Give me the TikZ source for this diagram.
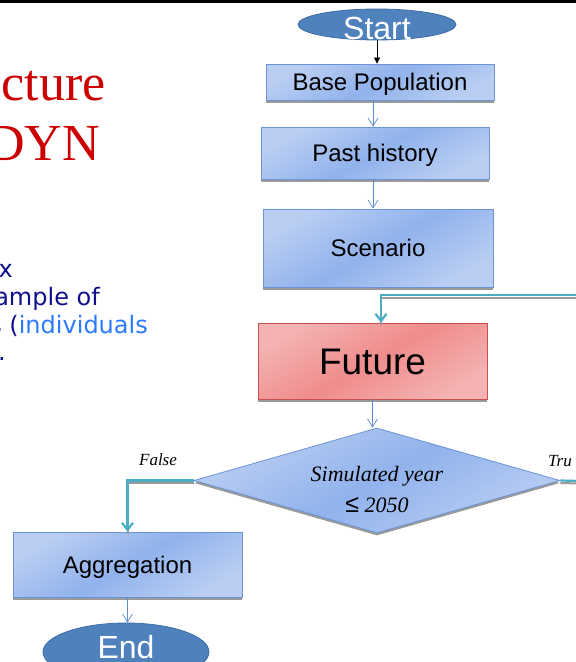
\documentclass[tikz,border=0pt]{standalone}
\usepackage{fontspec}
\setmainfont{Liberation Serif}
\setsansfont{Liberation Sans}
\newfontfamily\slidefont{DejaVu Sans}
\usetikzlibrary{shapes.geometric,shadows,arrows.meta,calc}

\definecolor{boxmid}{HTML}{91B2EC}
\definecolor{boxlight}{HTML}{BACEF2}
\definecolor{boxedge}{HTML}{6B93D6}
\definecolor{redmid}{HTML}{F08C8C}
\definecolor{redlight}{HTML}{F4B2B2}
\definecolor{rededge}{HTML}{C8504E}
\definecolor{termfill}{HTML}{4F81BD}
\definecolor{termedge}{HTML}{3F6EA6}
\definecolor{flowteal}{HTML}{4BACC6}
\definecolor{thinblue}{HTML}{5B8BD0}
\definecolor{titlered}{HTML}{CC0000}
\definecolor{bodynavy}{HTML}{0F0F8F}
\definecolor{bodylink}{HTML}{2B7BFF}
\definecolor{shadowgray}{HTML}{9A9A9A}

\tikzset{
  boxshadow/.style={drop shadow={shadow xshift=0pt, shadow yshift=-2.5pt,
      fill=shadowgray, opacity=1}},
  blueshade/.style={left color=boxlight, right color=boxlight,
      middle color=boxmid, shading angle=30},
  procbox/.style={rectangle, draw=boxedge, line width=0.8pt, blueshade,
      boxshadow, inner sep=0pt,
      font=\sffamily\fontsize{24}{28}\selectfont,
      text height=17pt, text depth=0pt},
  hotbox/.style={rectangle, draw=rededge, line width=0.8pt,
      left color=redlight, right color=redlight, middle color=redmid,
      shading angle=30, boxshadow, inner sep=0pt,
      font=\sffamily\fontsize{37}{42}\selectfont,
      text height=26.5pt, text depth=0pt},
  decision/.style={diamond, draw=boxedge, line width=0.8pt, blueshade,
      boxshadow, inner sep=0pt},
  condtext/.style={font=\rmfamily\fontsize{22}{31}\selectfont,
      align=center, inner sep=0pt},
  terminal/.style={ellipse, fill=termfill, draw=termedge,
      line width=0.8pt, inner sep=0pt},
  termtext/.style={font=\sffamily\fontsize{32}{36}\selectfont,
      text=white, anchor=base, inner sep=0pt},
  branchtext/.style={font=\rmfamily\itshape\fontsize{17}{20}\selectfont,
      inner sep=0pt},
  titletext/.style={font=\rmfamily\fontsize{52}{60}\selectfont,
      text=titlered, inner sep=0pt},
  bodytext/.style={font=\slidefont\fontsize{24}{28}\selectfont,
      text=bodynavy, inner sep=0pt},
  thinarrow/.style={draw=thinblue, line width=0.7pt,
      -{Straight Barb[length=8pt,width=10pt,line width=0.7pt]}},
  startarrow/.style={draw=black, line width=0.7pt,
      -{Triangle[length=6pt,width=6pt]}},
  tealflow/.style={draw=flowteal, line width=2.2pt},
  tealshadow/.style={draw=shadowgray, line width=2pt,
      transform canvas={yshift=-2.5pt}},
  tealhead/.style={-{Straight Barb[length=7pt,width=11pt]}}
}

\begin{document}
\begin{tikzpicture}[x=1pt,y=-1pt]
  \useasboundingbox (0,0) rectangle (576,662);
  \clip (0,0) rectangle (576,662);
  \fill[white] (0,0) rectangle (576,662);
  \fill[black] (0,0) rectangle (576,2.5);

  % slide title and body text on the left
  \node[titletext, anchor=base east] (title1) at (106,100) {cture};
  \node[titletext, anchor=base east] (title2) at (100,160) {DYN};
  \node[bodytext, anchor=base east] (body1) at (13,277) {x};
  \node[bodytext, anchor=base east] (body2) at (100,305) {ample of};
  \node[bodytext, anchor=base east] (body3) at (148,333)
       {s (\textcolor{bodylink}{individuals}};
  \node[bodytext, anchor=base west] (body4) at (-2,360) {.};

  % flowchart blocks
  \node[terminal, minimum width=158pt, minimum height=31pt] (start) at (377,24.5) {};
  \node[termtext] (startlabel) at (377,39) {Start};
  \node[procbox, minimum width=228pt, minimum height=36pt] (base) at (380,82) {Base Population};
  \node[procbox, minimum width=228pt, minimum height=52pt] (past) at (375,153) {Past history};
  \node[procbox, minimum width=230pt, minimum height=78pt] (scen) at (378,248) {Scenario};
  \node[hotbox, minimum width=229pt, minimum height=76pt] (future) at (372.5,361) {Future};
  \node[decision, minimum width=366pt, minimum height=105pt] (cond) at (377,480.5) {};
  \node[condtext] (condlabel) at (377,489)
       {\textit{Simulated year}\\{\sffamily\fontsize{25}{31}\selectfont ≤} \textit{2050}};
  \node[procbox, minimum width=229pt, minimum height=65pt] (agg) at (127.5,564.5) {Aggregation};
  \node[terminal, minimum width=166pt, minimum height=58pt] (end) at (126,652) {};
  \node[termtext] (endlabel) at (126,658) {End};

  % branch labels
  \node[branchtext, anchor=base] (falselabel) at (158,465) {False};
  \node[branchtext, anchor=base west] (truelabel) at (548,466) {Tru};

  % straight connectors
  \draw[startarrow] (start.south) -- (start.south |- base.north);
  \draw[thinarrow] ([xshift=-7pt]base.south) -- ([xshift=-7pt]base.south |- past.north);
  \draw[thinarrow] ([xshift=-2pt]past.south) -- ([xshift=-2pt]past.south |- scen.north);
  \draw[thinarrow] (future.south) -- (future.south |- cond.north);
  \draw[thinarrow] (agg.south) -- (agg.south |- end.north);

  % loop back into the yearly step, and the two branches
  \coordinate (loopin) at (580,295);
  \coordinate (trueout) at (580,481);
  \coordinate (futuretop) at ([xshift=8.5pt]future.north);
  \draw[tealshadow] (loopin) -| (futuretop);
  \draw[tealflow, tealhead] (loopin) -| (futuretop);
  \draw[tealshadow] (cond.west) -| (agg.north);
  \draw[tealflow, tealhead] (cond.west) -| (agg.north);
  \draw[tealshadow] (cond.east) -- (trueout);
  \draw[tealflow] (cond.east) -- (trueout);
\end{tikzpicture}
\end{document}
